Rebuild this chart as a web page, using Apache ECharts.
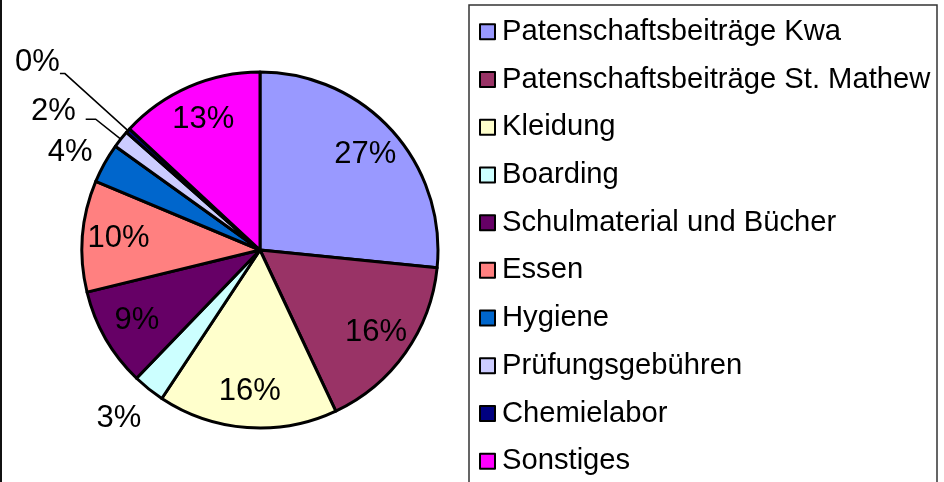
<!DOCTYPE html>
<html>
<head>
<meta charset="utf-8">
<script src="https://cdn.jsdelivr.net/npm/echarts@6/dist/echarts.min.js"></script>
<style>
  html, body { margin: 0; padding: 0; background: #fff; }
  #chart { width: 944px; height: 482px; }
</style>
</head>
<body>
<div id="chart"></div>
<script>
// Categories and shares (percent)
const categories = [
  "Patenschaftsbeiträge Kwa",
  "Patenschaftsbeiträge St. Mathew",
  "Kleidung",
  "Boarding",
  "Schulmaterial und Bücher",
  "Essen",
  "Hygiene",
  "Prüfungsgebühren",
  "Chemielabor",
  "Sonstiges"
];
const shares = [26.6, 16.4, 16.3, 2.9, 9.0, 10.1, 3.6, 1.6, 0.4, 13.1];
const colors = [
  "#9999FF", "#993366", "#FFFFCC", "#CCFFFF", "#660066",
  "#FF8080", "#0066CC", "#CCCCFF", "#000080", "#FF00FF"
];
// which slices get their label outside the pie
const outsideLabel = [false, false, false, true, false, false, true, true, true, false];

const fontFamily = "'Liberation Sans', Arial, sans-serif";

// Styling for the outside labels (line length, small text nudge)
const outsideStyle = {
  "Boarding": { length: 4, length2: 0, line: false, dx: 0, dy: 26 },
  "Hygiene": { length: 8, length2: 0, line: false, dx: 0, dy: -7 },
  "Prüfungsgebühren": { length: 32, length2: 10, line: true, dx: -5, dy: -8 },
  "Chemielabor": { length: 85, length2: 5, line: true, dx: 5, dy: -11 }
};

const pctFormatter = (p) => Math.round(p.percent) + "%";

// Main pie: slices + outside labels
const mainData = categories.map((name, i) => {
  const item = {
    name: name,
    value: shares[i],
    itemStyle: { color: colors[i] }
  };
  if (outsideLabel[i]) {
    const s = outsideStyle[name];
    item.label = { show: true, position: "outside" };
    item.labelLine = {
      show: s.line,
      length: s.length,
      length2: s.length2,
      lineStyle: { color: "#000", width: 1.5 }
    };
  } else {
    item.label = { show: false };
    item.labelLine = { show: false };
  }
  return item;
});

// Transparent overlay pie: only used to place the inside labels further out
const labelData = categories.map((name, i) => ({
  name: name,
  value: shares[i],
  label: { show: !outsideLabel[i] }
}));

const chart = echarts.init(document.getElementById("chart"), null, { renderer: "canvas" });

const option = {
  backgroundColor: "#fff",
  animation: false,
  color: colors,
  legend: {
    orient: "vertical",
    left: 479,
    top: 17,
    padding: 0,
    itemWidth: 15,
    itemHeight: 15,
    itemGap: 18,
    selectedMode: false,
    icon: "rect",
    itemStyle: { borderColor: "#000", borderWidth: 2 },
    textStyle: {
      color: "#000",
      fontSize: 29.2,
      lineHeight: 29.7,
      fontFamily: fontFamily,
      padding: [0, 0, 0, 2]
    },
    data: categories
  },
  graphic: [
    {
      type: "rect",
      shape: { x: 469, y: 5, width: 468, height: 500 },
      style: { fill: "none", stroke: "#333", lineWidth: 1.5 },
      silent: true
    },
    {
      type: "line",
      shape: { x1: 1, y1: 0, x2: 1, y2: 482 },
      style: { stroke: "#111", lineWidth: 2 },
      silent: true
    }
  ],
  series: [
    {
      type: "pie",
      center: [260, 250],
      radius: [0, 178],
      startAngle: 90,
      clockwise: true,
      avoidLabelOverlap: false,
      itemStyle: { borderColor: "#000", borderWidth: 3 },
      label: {
        color: "#000",
        fontSize: 31,
        fontFamily: fontFamily,
        formatter: pctFormatter,
        distanceToLabelLine: 5
      },
      labelLayout: function (params) {
        const s = outsideStyle[categories[params.dataIndex]];
        return s ? { dx: s.dx, dy: s.dy } : {};
      },
      emphasis: { disabled: true },
      data: mainData
    },
    {
      type: "pie",
      center: [260, 250],
      radius: [100, 178],
      startAngle: 90,
      clockwise: true,
      silent: true,
      avoidLabelOverlap: false,
      itemStyle: { color: "rgba(0,0,0,0)", borderWidth: 0 },
      label: {
        position: "inside",
        color: "#000",
        fontSize: 31,
        fontFamily: fontFamily,
        formatter: pctFormatter
      },
      labelLine: { show: false },
      emphasis: { disabled: true },
      data: labelData
    }
  ]
};

chart.setOption(option);
</script>
</body>
</html>
